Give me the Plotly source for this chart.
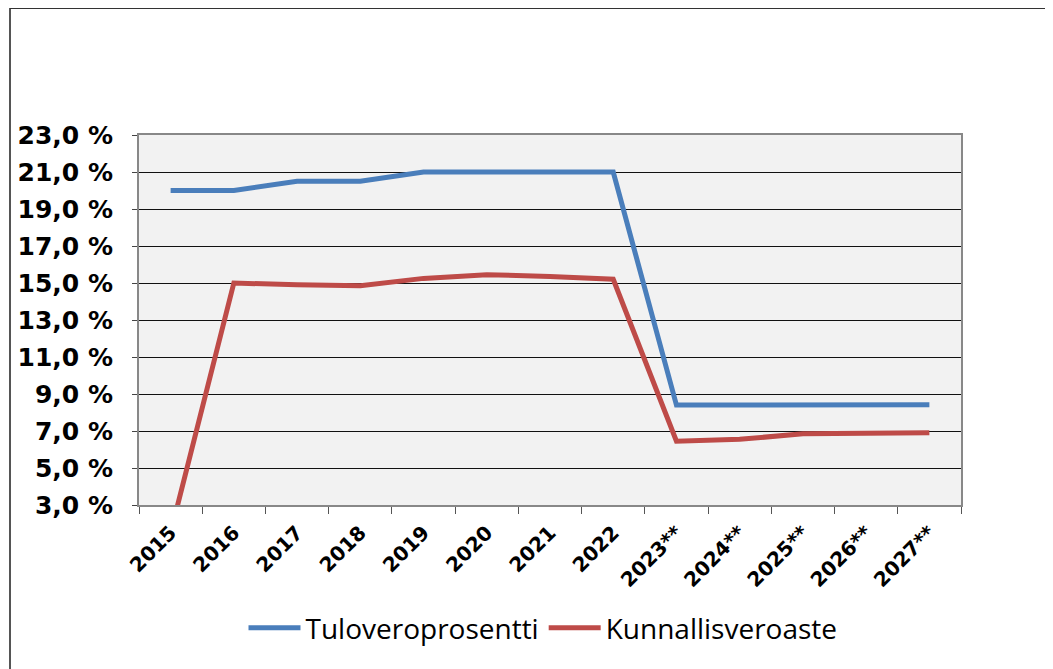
import plotly.graph_objects as go

years = ["2015", "2016", "2017", "2018", "2019", "2020", "2021", "2022",
         "2023**", "2024**", "2025**", "2026**", "2027**"]
tulovero = [20.0, 20.0, 20.5, 20.5, 21.0, 21.0, 21.0, 21.0, 8.4, 8.42, 8.42, 8.42, 8.42]
kunnallis = [1.5, 15.0, 14.9, 14.85, 15.25, 15.45, 15.35, 15.2, 6.45, 6.55, 6.85, 6.87, 6.9]
ytick_vals = [3, 5, 7, 9, 11, 13, 15, 17, 19, 21, 23]
ytick_text = ["3,0 %", "5,0 %", "7,0 %", "9,0 %", "11,0 %", "13,0 %", "15,0 %",
              "17,0 %", "19,0 %", "21,0 %", "23,0 %"]

W, H = 1053, 669
OFF = 8  # page body offset
L, R, T, B = 139 - OFF, 961 - OFF, 135 - OFF, 505 - OFF

fig = go.Figure()
fig.add_trace(go.Scatter(x=years, y=tulovero, mode="lines", name="Tuloveroprosentti",
                         line=dict(color="#4A7EBB", width=5)))
fig.add_trace(go.Scatter(x=years, y=kunnallis, mode="lines", name="Kunnallisveroaste",
                         line=dict(color="#BE4B48", width=5)))

def px_x(p):
    return (p - OFF - L) / (R - L)

def px_y(p):
    return (B - (p - OFF)) / (B - T)

fig.update_layout(
    width=W, height=H,
    margin=dict(l=L, r=W - R, t=T, b=H - B, autoexpand=False),
    paper_bgcolor="white",
    plot_bgcolor="#F2F2F2",
    showlegend=True,
    legend=dict(orientation="h", x=(543 - 139) / 822, xanchor="center", y=px_y(628), yanchor="middle",
                font=dict(family="Open Sans", size=28, color="#000"),
                itemwidth=52, bgcolor="rgba(0,0,0,0)", tracegroupgap=0),
    xaxis=dict(type="category", tickson="boundaries", ticks="outside", ticklen=7,
               tickcolor="#555", tickwidth=1, tickangle=-45,
               tickfont=dict(family="DejaVu Sans", size=20, color="#000", weight="bold"),
               ticklabelstandoff=6,
               showgrid=False, showline=True, linecolor="#888", linewidth=2, mirror=True,
               range=[-0.5, 12.5], fixedrange=True),
    yaxis=dict(range=[3, 23], tickvals=ytick_vals, ticktext=ytick_text,
               ticks="outside", ticklen=5, tickcolor="#444", tickwidth=1,
               tickfont=dict(family="DejaVu Sans", size=25, color="#000", weight="bold"),
               showgrid=True, gridcolor="#111", gridwidth=1,
               showline=True, linecolor="#888", linewidth=2, mirror=True,
               zeroline=False, ticklabelstandoff=14),
)

# outer chart border (left and top visible)
fig.add_shape(type="line", xref="paper", yref="paper",
              x0=px_x(10), x1=px_x(10), y0=px_y(8), y1=px_y(680),
              line=dict(color="#555", width=2))
fig.add_shape(type="line", xref="paper", yref="paper",
              x0=px_x(10), x1=px_x(1070), y0=px_y(8), y1=px_y(8),
              line=dict(color="#333", width=2))

fig.write_html("out.html")
